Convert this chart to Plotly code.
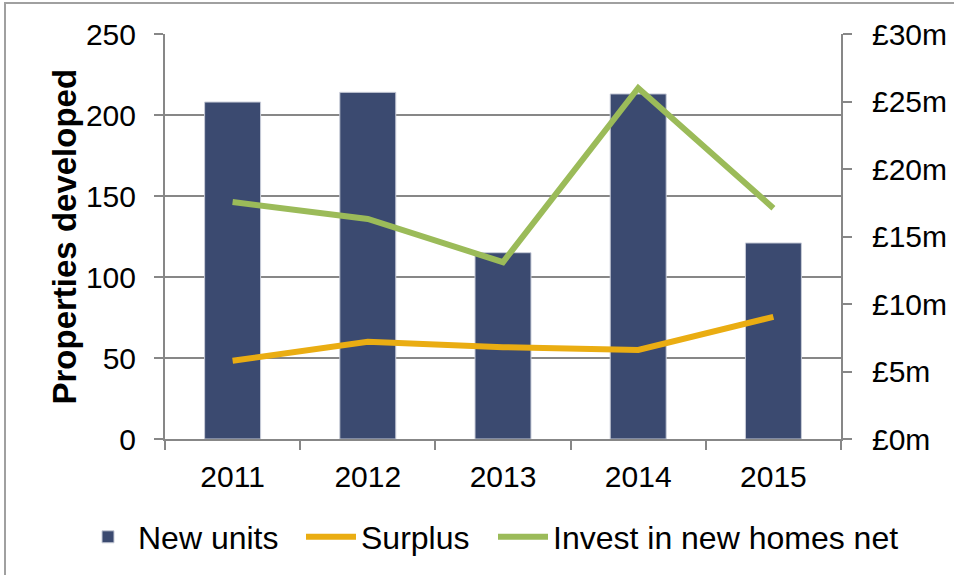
import plotly.graph_objects as go

years = ["2011", "2012", "2013", "2014", "2015"]
new_units = [208, 214, 115, 213, 121]
surplus = [5.8, 7.2, 6.8, 6.6, 9.05]
invest = [17.55, 16.3, 13.1, 26.0, 17.1]
right_tickvals = [0, 5, 10, 15, 20, 25, 30]
right_ticktext = ["£0m", "£5m", "£10m", "£15m", "£20m", "£25m", "£30m"]

FONT = "Liberation Sans, Arial, sans-serif"
GRID = "#878787"
W, H = 954, 575

fig = go.Figure()
fig.add_trace(go.Bar(
    x=years, y=new_units, name="New units", legend="legend",
    marker=dict(color="#3B4A70", line=dict(color="#C8CCD8", width=1)),
))
fig.add_trace(go.Scatter(
    x=years, y=surplus, name="Surplus", yaxis="y2", mode="lines", legend="legend2",
    line=dict(color="#EAAD12", width=6),
))
fig.add_trace(go.Scatter(
    x=years, y=invest, name="Invest in new homes net", yaxis="y2", mode="lines",
    legend="legend3", line=dict(color="#9BBB59", width=6),
))

def leg(text_x):
    return dict(orientation="h", xref="container", yref="container",
                x=(text_x - 62) / W, xanchor="left", y=1 - 537 / H, yanchor="middle",
                font=dict(size=32), itemwidth=50, bgcolor="rgba(0,0,0,0)")

fig.update_layout(
    width=W, height=H,
    margin=dict(l=165, r=113, t=34, b=136, autoexpand=False),
    paper_bgcolor="white", plot_bgcolor="white",
    font=dict(family=FONT, size=30, color="black"),
    bargap=0.586,
    showlegend=True,
    legend=leg(140), legend2=leg(363), legend3=leg(555),
    xaxis=dict(
        type="category", showline=True, linecolor=GRID, linewidth=2,
        ticks="outside", tickson="boundaries", ticklen=9, tickcolor=GRID, tickwidth=2,
        showgrid=False, tickfont=dict(size=30), ticklabelstandoff=10, automargin=False,
    ),
    yaxis=dict(
        range=[0, 250], dtick=50, showline=True, linecolor=GRID, linewidth=2,
        ticks="outside", ticklen=9, tickcolor=GRID, tickwidth=2,
        showgrid=True, gridcolor=GRID, gridwidth=2, zeroline=False,
        tickfont=dict(size=30), ticklabelstandoff=12, automargin=False,
    ),
    yaxis2=dict(
        range=[0, 30], overlaying="y", side="right",
        tickvals=right_tickvals, ticktext=right_ticktext,
        showline=True, linecolor=GRID, linewidth=2,
        ticks="outside", ticklen=9, tickcolor=GRID, tickwidth=2,
        showgrid=False, zeroline=False, tickfont=dict(size=30),
        ticklabelstandoff=14, automargin=False,
    ),
    annotations=[dict(text="<b>Properties developed</b>", textangle=-90,
                      xref="paper", yref="paper", x=(64 - 165) / 676, y=0.5,
                      xanchor="center", yanchor="middle", showarrow=False,
                      font=dict(size=33, color="black"))],
    shapes=[dict(type="rect", xref="paper", yref="paper",
                 x0=(5 - 165) / 676, x1=2.0, y0=-2.0, y1=(439 - 3) / 405,
                 line=dict(color="#A0A0A0", width=2), fillcolor="rgba(0,0,0,0)",
                 layer="below")],
)

fig.write_html("out.html", config={"displayModeBar": False},
               post_script="document.body.style.margin='0';")
